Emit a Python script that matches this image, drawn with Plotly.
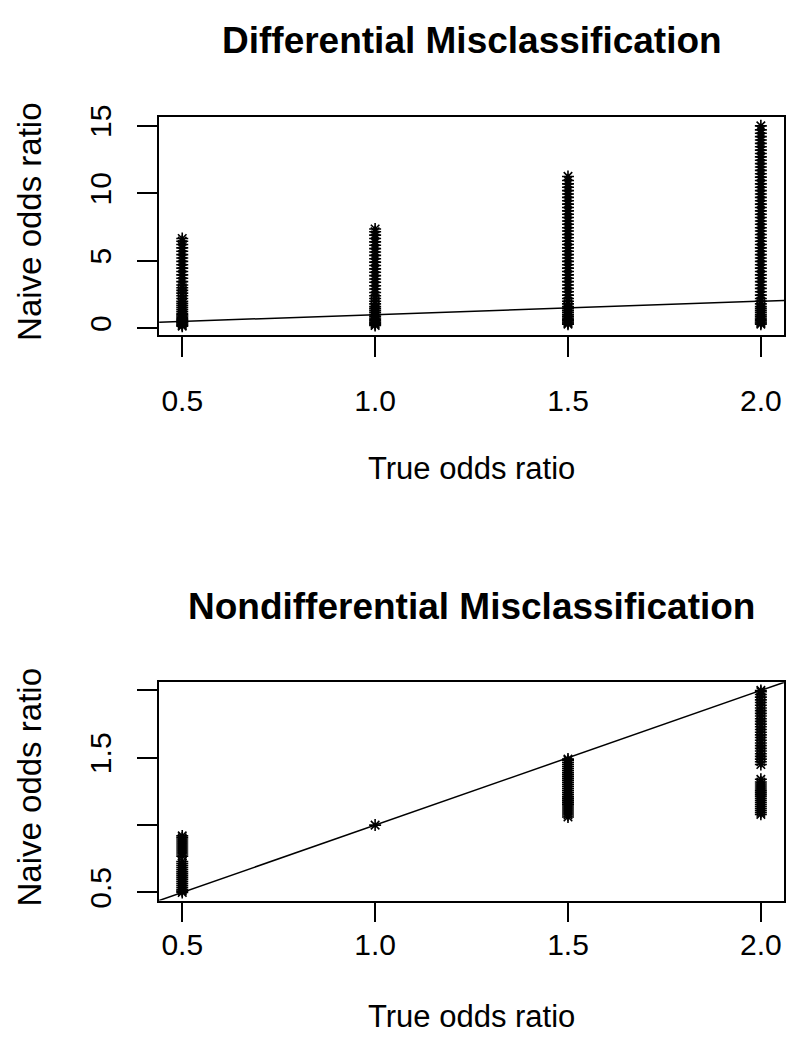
import plotly.graph_objects as go

# ---------------- data ----------------
true_or = [0.5, 1.0, 1.5, 2.0]

# Differential misclassification: naive OR values per true OR
diff_05 = [0.15, 0.22, 0.30, 0.38, 0.45, 0.55, 0.62, 0.70, 0.80, 0.90, 1.00, 1.10, 1.25,
           1.40, 1.55, 1.70, 1.85, 2.00, 2.20, 2.40, 2.60, 2.80, 3.00, 3.20, 3.45, 3.70,
           3.95, 4.20, 4.45, 4.70, 4.95, 5.20, 5.45, 5.70, 5.95, 6.20, 6.45, 6.65]
diff_10 = [0.20, 0.28, 0.36, 0.45, 0.55, 0.65, 0.75, 0.88, 1.00, 1.15, 1.30, 1.45, 1.60,
           1.80, 2.00, 2.20, 2.40, 2.65, 2.90, 3.15, 3.40, 3.65, 3.90, 4.15, 4.40, 4.65,
           4.90, 5.15, 5.40, 5.65, 5.90, 6.15, 6.40, 6.65, 6.90, 7.15, 7.35]
diff_15 = [0.30, 0.38, 0.46, 0.55, 0.65, 0.75, 0.88, 1.00, 1.15, 1.30, 1.45, 1.60, 1.80,
           2.00, 2.20, 2.45, 2.70, 2.95, 3.20, 3.45, 3.70, 3.95, 4.20, 4.45, 4.70, 4.95,
           5.20, 5.45, 5.70, 5.95, 6.20, 6.45, 6.70, 6.95, 7.20, 7.45, 7.70, 7.95, 8.20,
           8.45, 8.70, 8.95, 9.20, 9.45, 9.70, 9.95, 10.20, 10.45, 10.70, 10.95, 11.25]
diff_20 = [0.30, 0.38, 0.46, 0.55, 0.65, 0.75, 0.88, 1.00, 1.15, 1.30, 1.45, 1.60, 1.80,
           2.00, 2.20, 2.45, 2.70, 2.95, 3.20, 3.45, 3.70, 3.95, 4.20, 4.45, 4.70, 4.95,
           5.20, 5.45, 5.70, 5.95, 6.20, 6.45, 6.70, 6.95, 7.20, 7.45, 7.70, 7.95, 8.20,
           8.45, 8.70, 8.95, 9.20, 9.45, 9.70, 9.95, 10.20, 10.45, 10.70, 10.95, 11.20,
           11.45, 11.70, 11.95, 12.20, 12.45, 12.70, 12.95, 13.20, 13.45, 13.70, 13.95,
           14.20, 14.45, 14.70, 15.00]

# Nondifferential misclassification
nond_05 = [0.50, 0.51, 0.52, 0.535, 0.55, 0.565, 0.58, 0.595, 0.61, 0.625, 0.64, 0.655,
           0.67, 0.685, 0.70, 0.715, 0.73, 0.77, 0.785, 0.80, 0.815, 0.83, 0.845, 0.86,
           0.875, 0.89, 0.905, 0.92]
nond_10 = [1.00]
nond_15 = [1.06, 1.075, 1.09, 1.105, 1.12, 1.135, 1.15, 1.165, 1.18, 1.195, 1.21, 1.225,
           1.24, 1.255, 1.27, 1.285, 1.30, 1.315, 1.33, 1.345, 1.36, 1.375, 1.39, 1.405,
           1.42, 1.435, 1.45, 1.465, 1.48, 1.49]
nond_20 = [1.08, 1.095, 1.11, 1.125, 1.14, 1.155, 1.17, 1.185, 1.20, 1.215, 1.23, 1.245,
           1.26, 1.275, 1.29, 1.305, 1.32, 1.34,
           1.45, 1.47, 1.49, 1.51, 1.53, 1.55, 1.57, 1.59, 1.61, 1.63, 1.65, 1.67, 1.69,
           1.71, 1.73, 1.75, 1.77, 1.79, 1.81, 1.83, 1.85, 1.87, 1.89, 1.91, 1.93, 1.95,
           1.97, 1.99, 2.00]

x_ticks = [0.5, 1.0, 1.5, 2.0]
x_ticktext = ["0.5", "1.0", "1.5", "2.0"]
y1_ticks = [0, 5, 10, 15]
y1_ticktext = ["0", "5", "10", "15"]
y2_ticks = [0.5, 1.0, 1.5, 2.0]
y2_ticktext = ["0.5", "", "1.5", ""]

x_range = [0.44, 2.06]
y1_range = [-0.51, 15.68]
y2_range = [0.44, 2.06]

# ---------------- figure ----------------
W, H = 786, 1055
FONT = "Liberation Sans, Arial, Helvetica, sans-serif"

fig = go.Figure()

marker = dict(symbol="asterisk-open", size=10, color="black",
              line=dict(color="black", width=1.6))


def add_panel(groups, xa, ya):
    for xv, vals in zip(true_or, groups):
        fig.add_trace(go.Scatter(x=[xv] * len(vals), y=vals, mode="markers",
                                 marker=marker, xaxis=xa, yaxis=ya,
                                 showlegend=False, hoverinfo="skip"))
    # identity reference line y = x across the whole x range
    fig.add_trace(go.Scatter(x=x_range, y=x_range, mode="lines",
                             line=dict(color="black", width=1.5),
                             xaxis=xa, yaxis=ya, showlegend=False,
                             hoverinfo="skip", cliponaxis=True))


add_panel([diff_05, diff_10, diff_15, diff_20], "x", "y")
add_panel([nond_05, nond_10, nond_15, nond_20], "x2", "y2")

px_l, px_r = 159.3, 785.0
top_box = (106.7, 329.3)
bot_box = (683.3, 905.7)

xdom = [px_l / W, px_r / W]


def ydom(box):
    return [1 - box[1] / H, 1 - box[0] / H]


axis_common = dict(showline=True, mirror=True, linecolor="black", linewidth=1.5,
                   ticks="outside", ticklen=20, tickwidth=1.5, tickcolor="black",
                   showgrid=False, zeroline=False,
                   tickfont=dict(family=FONT, size=30, color="black"))

fig.update_layout(
    width=W, height=H,
    margin=dict(l=0, r=0, t=0, b=0),
    paper_bgcolor="white", plot_bgcolor="white",
    xaxis=dict(domain=xdom, range=x_range, tickvals=x_ticks, ticktext=x_ticktext,
               anchor="y", ticklabelstandoff=18, **axis_common),
    yaxis=dict(domain=ydom(top_box), range=y1_range, tickvals=y1_ticks,
               ticktext=y1_ticktext, anchor="x", tickangle=-90,
               ticklabelstandoff=14, **axis_common),
    xaxis2=dict(domain=xdom, range=x_range, tickvals=x_ticks, ticktext=x_ticktext,
                anchor="y2", ticklabelstandoff=-3, **axis_common),
    yaxis2=dict(domain=ydom(bot_box), range=y2_range, tickvals=y2_ticks,
                ticktext=y2_ticktext, anchor="x2", tickangle=-90,
                ticklabelstandoff=14, **axis_common),
)

cx = (px_l + px_r) / 2 / W


def ann(text, x, ypix, size, bold=False, angle=0):
    fig.add_annotation(text=f"<b>{text}</b>" if bold else text,
                       x=x, y=1 - ypix / H, xref="paper", yref="paper",
                       xanchor="center", yanchor="middle", showarrow=False,
                       textangle=angle,
                       font=dict(family=FONT, size=size, color="black"))


ann("Differential Misclassification", cx, 29, 37, bold=True)
ann("Nondifferential Misclassification", cx, 606, 37, bold=True)
ann("True odds ratio", cx, 465, 31)
ann("True odds ratio", cx, 1024, 31)
ann("Naive odds ratio", 30 / W, (top_box[0] + top_box[1]) / 2 - 4, 33, angle=-90)
ann("Naive odds ratio", 30 / W, (bot_box[0] + bot_box[1]) / 2 - 4, 33, angle=-90)

fig.write_html("out.html")
